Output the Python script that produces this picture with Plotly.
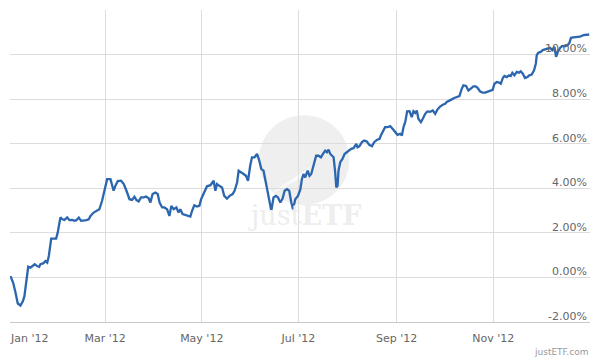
import pandas as pd
import plotly.graph_objects as go

day_offsets = [
    0.3, 2.0, 3.5, 4.9, 6.6, 8.1, 9.1, 10.4, 11.5, 12.9, 14.4, 15.6, 17.1, 18.4, 19.2, 20.9,
    22.4, 23.5, 24.5, 26.0, 27.6, 29.1, 30.1, 31.8, 33.1, 34.4, 36.1, 37.5, 39.2, 40.7, 41.9,
    43.4, 44.9, 46.5, 48.2, 49.7, 50.8, 52.8, 55.0, 56.4, 58.1, 59.8, 61.3, 63.4, 65.4, 66.5,
    68.0, 70.1, 71.8, 73.5, 75.4, 77.0, 78.5, 79.8, 81.2, 82.7, 84.4, 85.9, 87.5, 88.6, 90.0,
    91.7, 93.2, 94.4, 96.0, 97.4, 99.1, 100.6, 101.8, 103.3, 105.0, 106.4, 107.5, 108.9, 110.6,
    112.1, 113.8, 114.9, 116.3, 118.0, 119.5, 120.6, 122.2, 124.3, 126.5, 127.5, 128.5, 129.6,
    130.6, 132.1, 133.8, 135.2, 136.9, 138.6, 140.5, 141.7, 143.3, 144.3, 146.0, 147.4, 148.9,
    150.2, 151.6, 152.7, 154.3, 155.9, 157.3, 158.6, 160.0, 162.2, 163.6, 164.9, 166.3, 167.8,
    169.1, 170.6, 172.0, 173.3, 174.8, 176.2, 177.5, 178.6, 180.0, 181.7, 183.2, 184.2, 185.2,
    186.3, 187.8, 189.0, 190.1, 190.9, 192.0, 193.2, 194.7, 196.2, 197.5, 198.9, 200.0, 201.0,
    202.1, 203.1, 204.2, 205.2, 205.9, 206.7, 207.3, 208.4, 209.8, 211.1, 212.6, 214.1, 215.3,
    216.8, 218.5, 219.3, 220.4, 222.1, 223.5, 225.2, 226.7, 228.4, 229.8, 231.5, 233.2, 234.0,
    235.3, 236.7, 238.2, 239.9, 241.4, 243.1, 244.5, 246.2, 247.3, 248.3, 249.5, 250.6, 252.1,
    253.5, 254.6, 255.7, 256.7, 257.7, 259.3, 260.5, 262.0, 263.4, 265.1, 266.8, 268.3, 269.7,
    271.4, 273.1, 274.6, 275.6, 277.3, 278.8, 280.3, 282.0, 283.6, 285.1, 286.1, 287.8, 289.3,
    290.8, 292.4, 293.9, 295.2, 296.6, 298.1, 299.8, 301.2, 302.9, 304.6, 305.7, 307.2, 308.6,
    309.7, 311.0, 312.0, 313.5, 314.9, 316.0, 317.0, 318.3, 319.8, 321.2, 322.3, 323.6, 325.0,
    326.5, 327.7, 329.2, 330.7, 331.8, 332.4, 333.4, 334.9, 336.2, 337.6, 339.1, 340.8, 342.2,
    343.5, 344.6, 345.7, 347.1, 348.5, 350.2, 351.7, 352.9, 354.0, 355.5, 357.6, 359.7, 361.8,
    363.9, 365.5,
]

# Cumulative performance in percent
performance = [
    0.06, -0.24, -0.69, -1.17, -1.26, -1.07, -0.84, -0.17, 0.48, 0.44, 0.51, 0.59, 0.51, 0.48,
    0.59, 0.63, 0.73, 0.66, 0.96, 1.74, 1.74, 1.74, 2.01, 2.69, 2.61, 2.58, 2.69, 2.57, 2.58,
    2.54, 2.57, 2.69, 2.54, 2.54, 2.57, 2.61, 2.76, 2.91, 3.02, 3.06, 3.44, 3.96, 4.41, 4.41,
    3.89, 4.11, 4.32, 4.34, 4.19, 3.89, 3.51, 3.48, 3.62, 3.47, 3.41, 3.59, 3.59, 3.63, 3.55,
    3.36, 3.74, 3.81, 3.74, 3.36, 3.14, 3.14, 3.06, 2.76, 3.21, 3.06, 3.14, 2.91, 3.06, 2.84,
    2.79, 2.76, 2.73, 2.99, 3.24, 3.18, 3.21, 3.51, 3.74, 4.09, 4.14, 4.26, 4.34, 3.89, 4.19,
    4.11, 4.04, 3.66, 3.54, 3.66, 3.74, 3.89, 4.26, 4.79, 4.72, 4.64, 4.56, 4.34, 5.02, 5.39,
    5.39, 5.54, 5.24, 4.86, 4.79, 3.96, 3.36, 2.99, 3.59, 3.66, 3.59, 3.36, 3.54, 3.89, 3.96,
    3.89, 3.36, 3.06, 3.51, 3.66, 3.95, 4.41, 4.64, 4.49, 4.79, 4.56, 4.64, 4.86, 5.17, 5.46,
    5.46, 5.39, 5.54, 5.69, 5.62, 5.73, 5.54, 5.46, 5.39, 4.72, 4.04, 4.11, 4.79, 5.17, 5.32,
    5.54, 5.62, 5.69, 5.77, 5.80, 5.99, 5.84, 5.88, 6.07, 6.14, 6.10, 5.95, 5.89, 6.07, 6.17,
    6.22, 6.37, 6.52, 6.74, 6.74, 6.79, 6.67, 6.52, 6.40, 6.44, 6.37, 6.74, 7.00, 7.45, 7.46,
    7.19, 7.46, 7.38, 7.49, 7.12, 6.97, 7.12, 7.34, 7.45, 7.43, 7.49, 7.34, 7.53, 7.67, 7.75,
    7.79, 7.87, 7.95, 7.99, 8.05, 8.09, 8.14, 8.47, 8.62, 8.59, 8.39, 8.47, 8.57, 8.57, 8.50,
    8.35, 8.29, 8.29, 8.32, 8.35, 8.42, 8.69, 8.77, 8.74, 8.69, 8.95, 9.04, 8.99, 9.07, 9.04,
    9.18, 9.07, 9.22, 9.19, 9.25, 9.14, 8.95, 8.99, 9.07, 9.10, 9.29, 9.59, 9.97, 10.08, 10.12,
    10.20, 10.24, 10.27, 10.30, 10.20, 10.35, 9.90, 10.12, 10.30, 10.39, 10.37, 10.42, 10.50,
    10.75, 10.77, 10.77, 10.80, 10.87, 10.90, 10.90,
]

x_tick_dates = ["2012-01-01", "2012-03-01", "2012-05-01", "2012-07-01", "2012-09-01",
                "2012-11-01", "2013-01-01"]
x_tick_labels = ["", "Mar '12", "May '12", "Jul '12", "Sep '12", "Nov '12", ""]
first_x_label = "Jan '12"

y_tick_values = [-2, 0, 2, 4, 6, 8, 10, 12]
y_tick_labels = ["-2.00%", "0.00%", "2.00%", "4.00%", "6.00%", "8.00%", "10.00%", ""]

dates = pd.Timestamp("2012-01-01") + pd.to_timedelta(day_offsets, unit="D")

FONT = "DejaVu Sans"
GRID = "#dcdcdc"
TXT = "#666666"

fig = go.Figure()

fig.add_trace(go.Scatter(
    x=dates, y=performance, mode="lines",
    line=dict(color="#2b66ae", width=2.3, shape="linear"),
    hoverinfo="skip", showlegend=False,
))

# watermark
fig.add_shape(type="circle", xref="paper", yref="paper",
              x0=0.507 - 0.078, x1=0.507 + 0.078, y0=0.519 - 0.144, y1=0.519 + 0.144,
              fillcolor="#efefef", line=dict(width=0), layer="below")
fig.add_shape(type="path", xref="paper", yref="paper",
              path="M 0.44 0.40 L 0.52 0.50 L 0.50 0.46 Z",
              fillcolor="#fafafa", line=dict(width=0), layer="below")
fig.add_annotation(xref="paper", yref="paper", x=0.507, y=0.285,
                   text="just<b>ETF</b>", showarrow=False,
                   font=dict(family="DejaVu Serif", size=27, color="#eeeeee"))

fig.add_annotation(xref="paper", yref="paper", x=0.0, y=0, yshift=-8, xshift=-2,
                   xanchor="left", yanchor="top", text=first_x_label, showarrow=False,
                   font=dict(family=FONT, size=11, color=TXT))
fig.add_annotation(xref="paper", yref="paper", x=1.0, y=0, yshift=-23, xshift=0,
                   xanchor="right", yanchor="top", text="justETF.com", showarrow=False,
                   font=dict(family=FONT, size=9, color="#999999"))

# page body has an 8px margin: the figure starts at (8, 8) in the window
fig.update_layout(
    width=592, height=352,
    margin=dict(l=2, r=10, t=2, b=38, autoexpand=False),
    paper_bgcolor="white", plot_bgcolor="white",
    font=dict(family=FONT, size=11, color=TXT),
    xaxis=dict(
        type="date", range=["2012-01-01", "2013-01-01"],
        tickvals=x_tick_dates, ticktext=x_tick_labels,
        showgrid=True, gridcolor=GRID, gridwidth=1,
        showline=True, linecolor="#c8c8c8", linewidth=1,
        ticks="", ticklabelstandoff=6, zeroline=False, automargin=False,
        tickfont=dict(family=FONT, size=11, color=TXT),
    ),
    yaxis=dict(
        range=[-2, 12], side="right",
        tickvals=y_tick_values, ticktext=y_tick_labels,
        ticklabelposition="inside", ticklabelshift=-6, ticklabeloverflow="allow",
        showgrid=True, gridcolor=GRID, gridwidth=1,
        zeroline=False, showline=False, ticks="", automargin=False,
        tickfont=dict(family=FONT, size=11, color=TXT),
    ),
)

fig.write_html("out.html")
